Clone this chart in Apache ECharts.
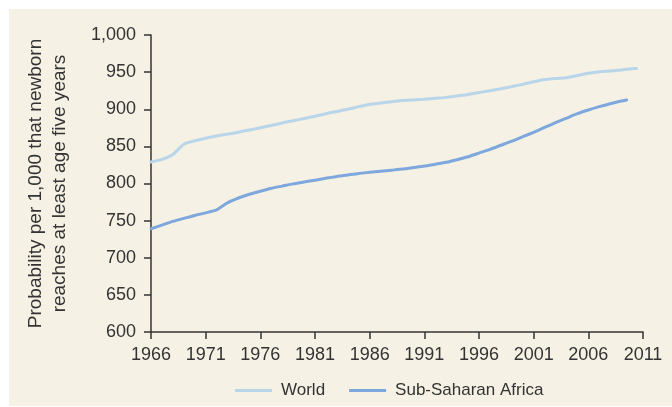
<!DOCTYPE html>
<html>
<head>
<meta charset="utf-8">
<script src="https://cdn.jsdelivr.net/npm/echarts@6/dist/echarts.min.js"></script>
<style>
  html, body { margin: 0; padding: 0; background: #ffffff; }
  #panel { position: absolute; left: 9px; top: 9px; width: 663px; height: 397px; background: #f5f1e4; }
  #main { position: absolute; left: 0; top: 0; width: 672px; height: 407px; }
</style>
</head>
<body>
<div id="panel"></div>
<div id="main"></div>
<script>
// years are stored as offset from 1966
var startYear = 1966;

var worldYears = [0, 1, 2, 3, 4, 5, 6, 7, 8, 9, 10, 11, 12, 13, 14, 15, 16, 17, 18, 19, 20, 21, 22,
  23, 24, 25, 26, 27, 28, 29, 30, 31, 32, 33, 34, 35, 36, 37, 38, 39, 40, 41, 42, 43, 44, 44.4];
var worldValues = [829, 832.5, 839, 853, 857.5, 861, 864, 866.5, 869, 872, 875, 878, 881.5, 884.5, 887.5, 890.5,
  894, 897, 900, 903.5, 906.5, 908.5, 910, 911.8, 912.6, 913.5, 914.8, 916, 918, 920, 922.5, 925, 927.5,
  930.5, 933.5, 937, 940, 941.5, 942.5, 945.5, 948.5, 950.5, 951.5, 953, 954.5, 955];

var africaYears = [0, 1, 2, 3, 4, 5, 6, 7, 8, 9, 10, 11, 12, 13, 14, 15, 16, 17, 18, 19, 20, 21, 22,
  23, 24, 25, 26, 27, 28, 29, 30, 31, 32, 33, 34, 35, 36, 37, 38, 39, 40, 41, 42, 43, 43.5];
var africaValues = [739, 744, 749, 753, 757, 760.5, 764.5, 774, 780.5, 785.5, 789.5, 793.5, 796.5, 799.5, 802,
  804.5, 807, 809.5, 811.5, 813.5, 815, 816.5, 818, 819.5, 821.5, 823.5, 826, 828.5, 832, 836, 841, 846,
  851.5, 857, 863, 869, 875.5, 882, 888, 894, 899, 903.5, 907.5, 911, 912.5];

function pairs(xs, ys) {
  return xs.map(function (x, i) { return [x, ys[i]]; });
}

var font = '"Liberation Sans Narrow", "Arial Narrow", "Liberation Sans", sans-serif';
var textColor = '#333333';

var chart = echarts.init(document.getElementById('main'));
chart.setOption({
  backgroundColor: 'transparent',
  animation: false,
  textStyle: { fontFamily: font },
  grid: { left: 151, right: 29, top: 35, bottom: 75, containLabel: false },
  legend: {
    left: 230,
    top: 377,
    itemWidth: 37,
    itemHeight: 3,
    itemGap: 24,
    icon: 'rect',
    textStyle: { fontFamily: font, fontSize: 17, color: textColor, padding: [0, 0, 0, 4] },
    data: ['World', 'Sub-Saharan Africa']
  },
  xAxis: {
    type: 'value',
    min: 0,
    max: 45,
    interval: 5,
    axisLine: { show: true, lineStyle: { color: '#333333', width: 1.5 } },
    axisTick: { show: true, length: 7, lineStyle: { color: '#333333', width: 1.5 } },
    axisLabel: {
      margin: 14,
      fontFamily: font,
      fontSize: 18,
      color: textColor,
      formatter: function (v) { return String(v + startYear); }
    },
    splitLine: { show: false }
  },
  yAxis: {
    type: 'value',
    min: 600,
    max: 1000,
    interval: 50,
    name: 'Probability per 1,000 that newborn\nreaches at least age five years',
    nameLocation: 'middle',
    nameGap: 79,
    nameMoveOverlap: false,
    nameTextStyle: { fontFamily: font, fontSize: 19, color: textColor, lineHeight: 24 },
    axisLine: { show: true, lineStyle: { color: '#333333', width: 1.5 } },
    axisTick: { show: true, length: 7, lineStyle: { color: '#333333', width: 1.5 } },
    axisLabel: {
      margin: 15,
      fontFamily: font,
      fontSize: 18,
      color: textColor,
      formatter: function (v) { return v >= 1000 ? '1,' + String(v).slice(1) : String(v); }
    },
    splitLine: { show: false }
  },
  series: [
    {
      name: 'World',
      type: 'line',
      symbol: 'none',
      smooth: 0.2,
      data: pairs(worldYears, worldValues),
      itemStyle: { color: '#b9d5e9' },
      lineStyle: { color: '#b9d5e9', width: 3, cap: 'round' }
    },
    {
      name: 'Sub-Saharan Africa',
      type: 'line',
      symbol: 'none',
      smooth: 0.2,
      data: pairs(africaYears, africaValues),
      itemStyle: { color: '#7ea8dd' },
      lineStyle: { color: '#7ea8dd', width: 3, cap: 'round' }
    }
  ]
});
</script>
</body>
</html>
